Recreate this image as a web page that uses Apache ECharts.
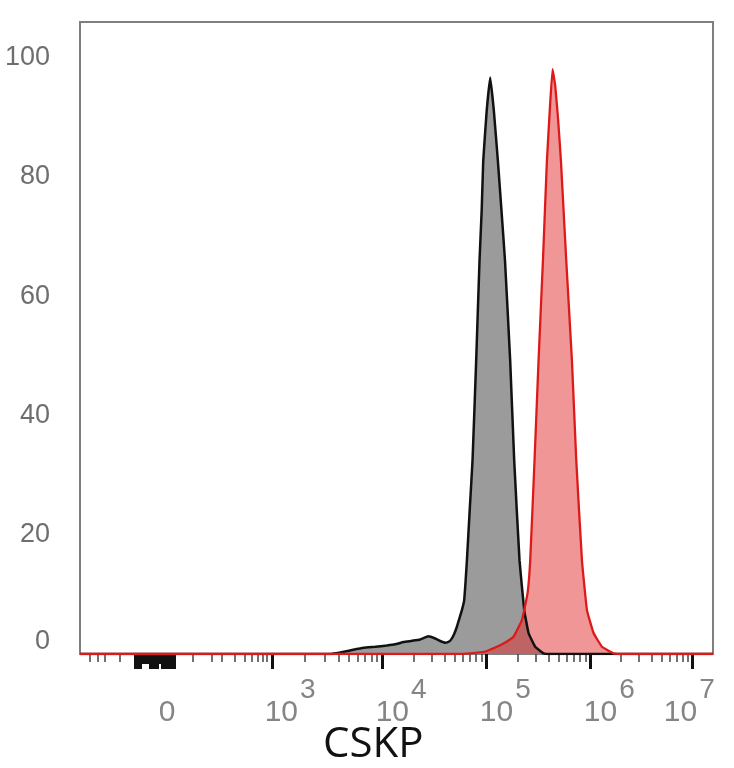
<!DOCTYPE html>
<html>
<head>
<meta charset="utf-8">
<title>CSKP histogram</title>
<script src="https://cdn.jsdelivr.net/npm/echarts@6.0.0/dist/echarts.min.js"></script>
<style>
  html, body { margin: 0; padding: 0; background: #fff; }
  #chart { width: 734px; height: 768px; }
</style>
</head>
<body>
<div id="chart"></div>
<script>
// x values are display channels (0-1024) of the biexponential CSKP axis, y values are % of max
var grayX = [0, 404.6, 420.8, 437.0, 458.5, 477.5, 496.4, 509.9, 523.3, 537.3, 550.3, 563.7, 574.6, 582.7, 590.8, 597.2,
  601.6, 605.3, 609.7, 613.4, 617.8, 621.5, 625.9, 630.4, 635.0, 640.9, 646.3, 649.8, 652.3, 657.9, 663.6, 669.5,
  676.0, 681.8, 687.5, 695.9, 702.4, 711.0, 718.6, 725.6, 736.4, 749.8, 760.7, 1024];
var grayY = [0, 0, 0.25, 0.59, 1.04, 1.21, 1.42, 1.62, 2.01, 2.21, 2.43, 2.96, 2.6, 2.18, 1.89, 2.09,
  2.63, 3.35, 4.57, 5.86, 7.37, 9.05, 15.7, 24.1, 32.5, 49.2, 66.0, 74.4, 82.7, 91.1, 96.7, 91.1,
  82.7, 74.4, 66.0, 49.2, 32.5, 15.7, 7.37, 3.52, 1.22, 0.12, 0, 0];

var redX = [0, 607.0, 631.3, 655.6, 674.4, 687.9, 701.3, 714.9, 724.0, 728.3, 735.3, 741.8, 748.9, 755.3, 759.9,
  764.4, 768.8, 773.6, 778.0, 786.6, 795.8, 802.8, 812.0, 820.1, 830.8, 844.4, 863.1, 882.1, 1024];
var redY = [0, 0, 0.12, 0.42, 1.22, 1.93, 2.9, 5.7, 10.2, 15.7, 32.5, 49.2, 66.0, 82.7, 91.1,
  98.1, 95.3, 89.4, 82.7, 66.0, 49.2, 32.5, 15.7, 7.37, 3.52, 1.22, 0.12, 0, 0];

// axis decorations (channel positions)
var majorTickPos = [121.4, 310.8, 488.8, 657.1, 825.4, 990.5]; // 0, 10^3 ... 10^7
var lowMinorTicks = [16.2, 29.1, 40.5, 64.7, 182.9, 213.6, 229.8, 250.9, 267.0, 278.4, 288.1, 296.2, 302.7];
var zeroTicksLong = [89, 92, 95, 98, 113, 116, 119, 122, 125, 133, 136, 139, 142, 145, 148, 151, 154];
var zeroTicksShort = [101, 104, 107, 110, 128, 130];
var xLabelPos = [148.9, 339.9, 519.5, 687.9, 856.2, 985.7];
var xLabelExp = ['', '3', '4', '5', '6', '7'];
var yTicks = [0, 20, 40, 60, 80, 100];

// minor ticks inside each decade from 10^3 upward
var decadeMinorTicks = [];
for (var i = 1; i < majorTickPos.length - 1; i++) {
  var a = majorTickPos[i], b = majorTickPos[i + 1];
  for (var m = 2; m <= 9; m++) {
    decadeMinorTicks.push(a + (b - a) * Math.log10(m));
  }
}
var minorTickPos = lowMinorTicks.concat(decadeMinorTicks);

function toPairs(xs, ys) {
  return xs.map(function (x, i) { return [x, ys[i]]; });
}

var labelFont = 'Liberation Sans, Arial, sans-serif';

function tickAxis(values, len, width, color) {
  return {
    type: 'value', position: 'bottom', min: 0, max: 1024,
    axisLine: { show: false },
    splitLine: { show: false },
    axisLabel: { show: false },
    axisTick: { show: true, customValues: values, length: len, lineStyle: { width: width, color: color } }
  };
}

var chart = echarts.init(document.getElementById('chart'));
chart.setOption({
  backgroundColor: '#fff',
  animation: false,
  title: {
    text: 'CSKP', left: 323, top: 724, padding: 0,
    textStyle: { fontSize: 42, fontWeight: 'normal', fontFamily: 'Open Sans, sans-serif', color: '#111' }
  },
  grid: { left: 80, right: 21, top: 22, bottom: 114, show: true, borderColor: '#7f7f7f', borderWidth: 2 },
  xAxis: [
    {
      type: 'value', position: 'bottom', min: 0, max: 1024,
      axisLine: { show: false },
      splitLine: { show: false },
      axisTick: { show: false },
      axisLabel: {
        customValues: xLabelPos,
        margin: 22,
        formatter: function (v) {
          var k = xLabelPos.indexOf(v);
          return xLabelExp[k] === '' ? '{b|0}{e| }' : '{b|10}{e|' + xLabelExp[k] + '}';
        },
        rich: {
          b: { fontSize: 30, color: '#858585', fontFamily: labelFont },
          e: { fontSize: 28, color: '#858585', fontFamily: labelFont, padding: [0, 0, 46, 2] }
        }
      }
    },
    tickAxis(majorTickPos, 15, 3, '#111'),
    tickAxis(minorTickPos, 8, 1.5, '#444'),
    tickAxis(zeroTicksLong, 15, 2, '#111'),
    tickAxis(zeroTicksShort, 10, 2, '#111')
  ],
  yAxis: {
    type: 'value', min: 0, max: 106, interval: 20,
    axisLine: { show: false },
    axisTick: { show: false },
    splitLine: { show: false },
    axisLabel: {
      customValues: yTicks,
      margin: 30,
      formatter: function (v) { return v === 0 ? '{z|0}' : '{n|' + v + '}'; },
      rich: {
        n: { fontSize: 27, color: '#6e6e6e', fontFamily: labelFont },
        z: { fontSize: 27, color: '#6e6e6e', fontFamily: labelFont, padding: [0, 0, 24, 0] }
      }
    }
  },
  series: [
    {
      name: 'control', type: 'line', xAxisIndex: 0, data: toPairs(grayX, grayY),
      symbol: 'none', smooth: 0.1,
      lineStyle: { color: '#111', width: 2.5 },
      areaStyle: { color: '#9b9b9b', opacity: 1 }
    },
    {
      name: 'CSKP', type: 'line', xAxisIndex: 0, data: toPairs(redX, redY),
      symbol: 'none', smooth: 0.1,
      lineStyle: { color: '#dd1a1a', width: 2.3 },
      areaStyle: { color: 'rgba(225, 45, 45, 0.5)', opacity: 1 }
    }
  ]
});
</script>
</body>
</html>
